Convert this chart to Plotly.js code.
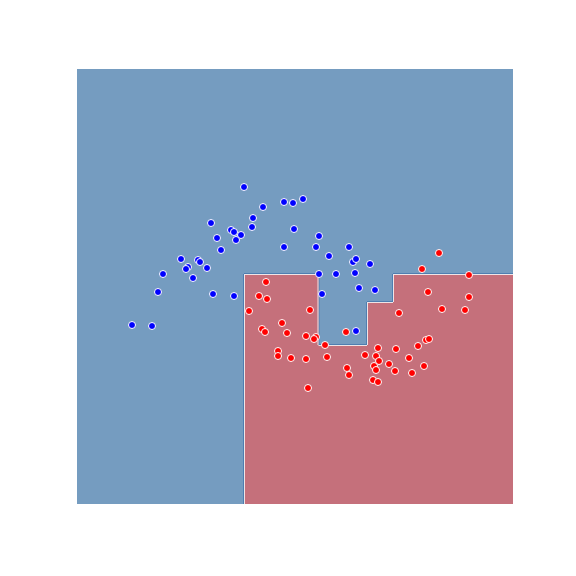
<!DOCTYPE html>
<html>
<head>
<meta charset="utf-8">
<script src="https://cdn.plot.ly/plotly-3.0.1.min.js"></script>
<style>html,body{margin:0;padding:0;background:#fff;}#chart{width:576px;height:576px;}</style>
</head>
<body>
<div id="chart"></div>
<script>
// Class 0 (blue) samples
const blueX = [-0.16,0.04,0.07,0.14,-0.10,0.09,-0.06,-0.46,-0.29,-0.27,-0.39,-0.41,-0.20,-0.64,-0.34,-0.69,-0.14,0.07,-0.95,-0.75,
  0.17,0.36,0.57,0.66,0.76,0.26,0.25,0.67,0.92,0.57,0.89,1.22,1.02,1.26,1.29,0.92,1.09,1.28,1.32,1.43,1.48,0.95,1.29];
const blueY = [1.31,1.24,1.22,1.19,1.16,1.14,1.04,0.95,0.94,0.92,0.87,0.85,0.86,0.80,0.76,0.62,0.60,0.58,0.29,0.28,
  1.67,1.47,1.52,1.51,1.55,1.36,1.27,1.25,1.18,1.07,1.07,1.07,0.98,0.92,0.95,0.80,0.80,0.81,0.66,0.90,0.64,0.60,0.23];
// Class 1 (red) samples
const redX = [0.39,0.32,0.40,0.22,0.83,0.55,0.35,0.38,0.60,0.79,0.89,0.87,0.98,0.51,0.51,0.64,0.79,1.00,1.20,1.22,0.81,1.19,
  2.12,1.95,2.42,2.01,2.42,2.15,2.38,1.72,1.99,2.02,1.51,1.69,1.91,1.38,1.49,1.82,1.52,1.62,1.47,1.49,1.68,1.97,1.85,1.46,1.51];
const redY = [0.72,0.58,0.55,0.43,0.44,0.31,0.25,0.22,0.21,0.18,0.17,0.15,0.09,0.03,-0.02,-0.04,-0.05,-0.03,-0.14,-0.21,-0.34,0.22,
  1.01,0.85,0.79,0.62,0.57,0.45,0.44,0.41,0.14,0.15,0.06,0.05,0.08,-0.01,-0.02,-0.04,-0.07,-0.10,-0.12,-0.16,-0.17,-0.12,-0.19,-0.26,-0.28];

// Decision tree split thresholds
const splitX = [0.17, 0.915, 1.40, 1.66];
const splitY = [0.09, 0.52, 0.80];
const xRange = [-1.5, 2.86];
const yRange = [-1.5, 2.85];

const blueCol = '#759cc0';
const redCol = '#c5707b';

function predict(x, y) {
  if (x <= splitX[0]) return 0;
  if (y > splitY[2]) return 0;
  if (x <= splitX[1]) return 1;
  if (x <= splitX[2]) return y <= splitY[0] ? 1 : 0;
  if (x <= splitX[3]) return y <= splitY[1] ? 1 : 0;
  return 1;
}

const xe = [xRange[0], ...splitX, xRange[1]];
const ye = [yRange[0], ...splitY, yRange[1]];
const z = [];
for (let j = 0; j < ye.length - 1; j++) {
  const row = [];
  const yc = (ye[j] + ye[j + 1]) / 2;
  for (let i = 0; i < xe.length - 1; i++) {
    row.push(predict((xe[i] + xe[i + 1]) / 2, yc));
  }
  z.push(row);
}

// Boundary path from the thresholds
const path = [
  [splitX[0], yRange[0]], [splitX[0], splitY[2]], [splitX[1], splitY[2]], [splitX[1], splitY[0]],
  [splitX[2], splitY[0]], [splitX[2], splitY[1]], [splitX[3], splitY[1]], [splitX[3], splitY[2]],
  [xRange[1], splitY[2]]
];
const px = 0.01;
function offsetPath(towardBlue) {
  const xs = [], ys = [];
  for (let k = 0; k < path.length - 1; k++) {
    const [x0, y0] = path[k], [x1, y1] = path[k + 1];
    const dx = x1 - x0, dy = y1 - y0, L = Math.hypot(dx, dy);
    let nx = dy / L, ny = -dx / L;
    const mx = (x0 + x1) / 2, my = (y0 + y1) / 2;
    const isBlue = predict(mx + nx * 0.05, my + ny * 0.05) === 0;
    if (isBlue !== towardBlue) { nx = -nx; ny = -ny; }
    xs.push(x0 + nx * px * 0.5, x1 + nx * px * 0.5, null);
    ys.push(y0 + ny * px * 0.5, y1 + ny * px * 0.5, null);
  }
  return {xs, ys};
}
const bl = offsetPath(true), wl = offsetPath(false);

const traces = [
  {type: 'heatmap', x: xe, y: ye, z: z, zmin: 0, zmax: 1, showscale: false, hoverinfo: 'skip',
   colorscale: [[0, blueCol], [1, redCol]]},
  {type: 'scatter', mode: 'lines', x: bl.xs, y: bl.ys, line: {color: '#4f7eb0', width: 1}, hoverinfo: 'skip', showlegend: false},
  {type: 'scatter', mode: 'lines', x: wl.xs, y: wl.ys, line: {color: '#f0e4e6', width: 1}, hoverinfo: 'skip', showlegend: false},
  {type: 'scatter', mode: 'markers', x: blueX, y: blueY, showlegend: false,
   marker: {color: '#0000ff', size: 7, line: {color: '#ffffff', width: 1}}},
  {type: 'scatter', mode: 'markers', x: redX, y: redY, showlegend: false,
   marker: {color: '#ff0000', size: 7, line: {color: '#ffffff', width: 1}}}
];

const layout = {
  width: 576, height: 576,
  margin: {l: 77, r: 63, t: 69, b: 72},
  paper_bgcolor: '#ffffff', plot_bgcolor: '#ffffff',
  showlegend: false,
  xaxis: {range: xRange, showgrid: false, zeroline: false, showticklabels: false, ticks: '', showline: false},
  yaxis: {range: yRange, showgrid: false, zeroline: false, showticklabels: false, ticks: '', showline: false}
};

Plotly.newPlot('chart', traces, layout, {displayModeBar: false, staticPlot: true});
</script>
</body>
</html>
